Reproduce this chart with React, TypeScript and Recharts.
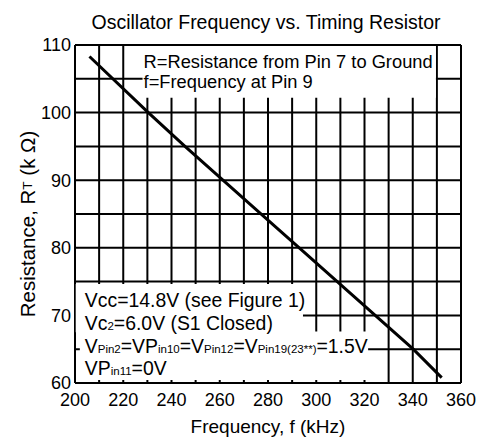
import { LineChart, Line, XAxis, YAxis, CartesianGrid, ReferenceArea } from 'recharts'

const freq = [206, 230.4, 245.6, 308.7, 340.2, 352]
const resistance = [108.3, 100, 95, 75, 65, 60.8]

const xTicks = [200, 210, 220, 230, 240, 250, 260, 270, 280, 290, 300, 310, 320, 330, 340, 350, 360]
const yTicks = [60, 65, 70, 75, 80, 85, 90, 95, 100, 105, 110]

const noteTop = ['R=Resistance from Pin 7 to Ground', 'f=Frequency at Pin 9']

// [text, small?] segments per line
const noteBottom: [string, boolean][][] = [
  [['Vcc=14.8V (see Figure 1)', false]],
  [['Vc', false], ['2', true], ['=6.0V (S1 Closed)', false]],
  [
    ['V', false], ['Pin2', true], ['=VP', false], ['in10', true], ['=V', false],
    ['Pin12', true], ['=V', false], ['Pin19(23**)', true], ['=1.5V', false],
  ],
  [['VP', false], ['in11', true], ['=0V', false]],
]

const FONT = '"Liberation Sans", Arial, sans-serif'

const data = freq.map((f, i) => ({ f, r: resistance[i] }))

function TopNote(props: any) {
  const vb = props.viewBox || { x: 0, y: 0 }
  return (
    <g>
      {noteTop.map((t, i) => (
        <text key={i} x={vb.x + 1} y={vb.y + 22 + i * 20} fontSize={18.3} fontFamily={FONT} fill="#000">
          {t}
        </text>
      ))}
    </g>
  )
}

// drawn from the lowest white box so nothing paints over it
function BottomNote(props: any) {
  const vb = props.viewBox || { x: 0, y: 0 }
  const baselines = [-24.5, -1.5, 21.5, 43.5]
  return (
    <g>
      {noteBottom.map((line, i) => (
        <text key={i} x={vb.x + 5} y={vb.y + baselines[i]} fontSize={19.4} fontFamily={FONT} fill="#000">
          {line.map(([t, small], j) => (
            <tspan key={j} fontSize={small ? 11.5 : 19.4}>
              {t}
            </tspan>
          ))}
        </text>
      ))}
    </g>
  )
}

function YLabel() {
  return (
    <text
      x={27}
      y={224}
      transform="rotate(-90, 27, 224)"
      textAnchor="middle"
      dominantBaseline="central"
      fontSize={20.5}
      fontFamily={FONT}
      fill="#000"
    >
      Resistance, R<tspan fontSize={13.5}>T</tspan> (k Ω)
    </text>
  )
}

export default function App() {
  return (
    <div style={{ position: 'absolute', left: 0, top: 0, width: 478, height: 441, background: '#fff' }}>
      <div
        style={{
          position: 'absolute',
          left: 0,
          width: 532,
          top: 11,
          textAlign: 'center',
          fontFamily: FONT,
          fontSize: 19.5,
          lineHeight: '22px',
          color: '#000',
        }}
      >
        Oscillator Frequency vs. Timing Resistor
      </div>
      <LineChart width={478} height={441} data={data} margin={{ top: 45, right: 17, bottom: 28, left: 30 }}>
        <CartesianGrid stroke="#000" strokeWidth={2} />
        <XAxis
          dataKey="f"
          type="number"
          domain={[200, 360]}
          ticks={xTicks}
          interval={0}
          height={30}
          axisLine={false}
          tickLine={false}
          tickSize={0}
          tickMargin={10}
          tickFormatter={(v: number) => (v % 20 === 0 ? String(v) : '')}
          tick={{ fill: '#000', fontSize: 18, fontFamily: FONT }}
          label={{
            value: 'Frequency, f (kHz)',
            position: 'insideBottom',
            offset: -20,
            fill: '#000',
            fontSize: 19,
            fontFamily: FONT,
          }}
        />
        <YAxis
          type="number"
          domain={[60, 110]}
          ticks={yTicks}
          interval={0}
          width={45}
          axisLine={false}
          tickLine={false}
          tickSize={0}
          tickMargin={4}
          tickFormatter={(v: number) => (v % 10 === 0 ? String(v) : '')}
          tick={{ fill: '#000', fontSize: 18, fontFamily: FONT }}
          label={<YLabel />}
        />
        <ReferenceArea x1={228} x2={349.6} y1={102.2} y2={109.85} fill="#fff" fillOpacity={1} stroke="none" label={(p: any) => <TopNote {...p} />} />
        <ReferenceArea x1={200.3} x2={294.5} y1={67.5} y2={74.65} fill="#fff" fillOpacity={1} stroke="none" />
        <ReferenceArea x1={202} x2={321.5} y1={60.45} y2={67.6} fill="#fff" fillOpacity={1} stroke="none" label={(p: any) => <BottomNote {...p} />} />
        <Line dataKey="r" stroke="#000" strokeWidth={3} dot={false} isAnimationActive={false} />
      </LineChart>
    </div>
  )
}
